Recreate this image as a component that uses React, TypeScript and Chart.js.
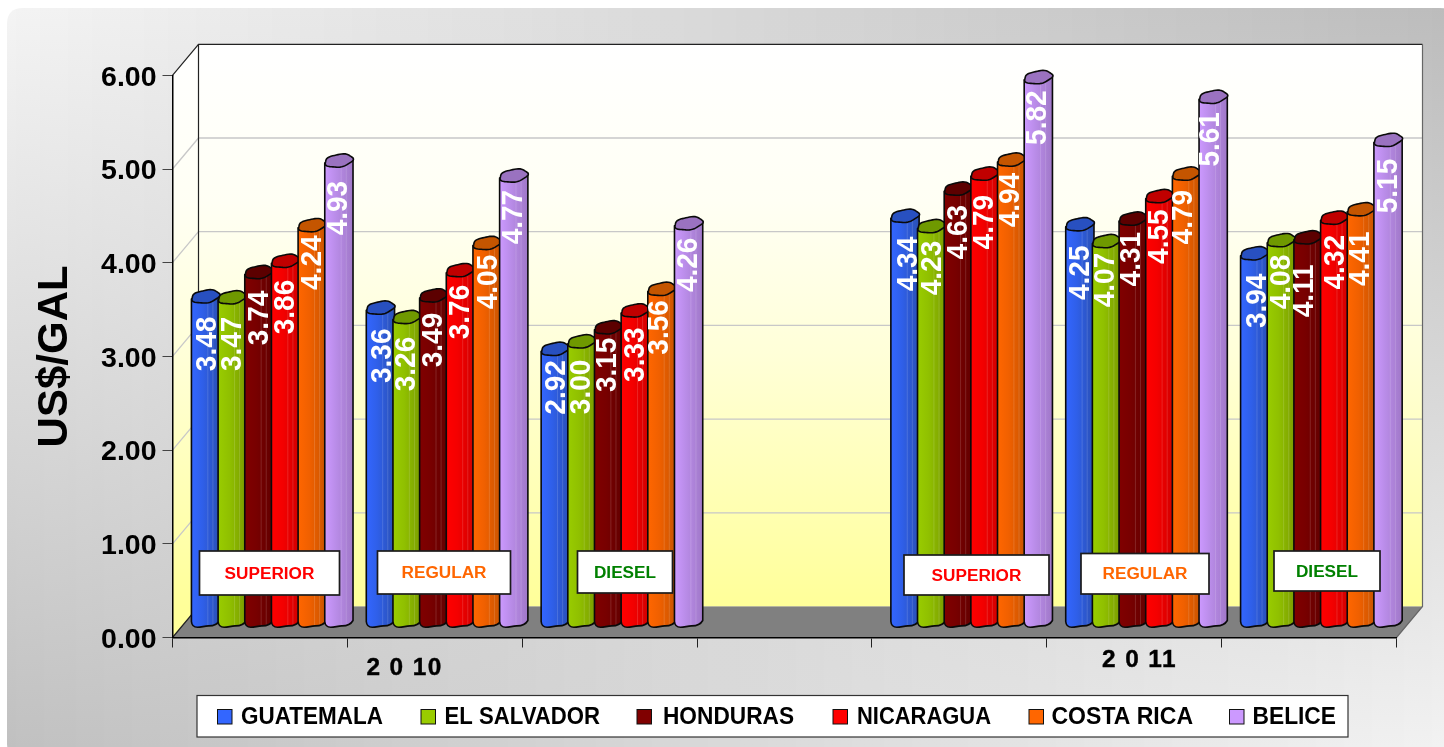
import React, { useEffect, useRef } from "react";
import { Chart, registerables } from "chart.js";

Chart.register(...registerables);

const categories = ["SUPERIOR", "REGULAR", "DIESEL", "", "SUPERIOR", "REGULAR", "DIESEL"];
const guatemala = [3.48, 3.36, 2.92, null, 4.34, 4.25, 3.94];
const elSalvador = [3.47, 3.26, 3.0, null, 4.23, 4.07, 4.08];
const honduras = [3.74, 3.49, 3.15, null, 4.63, 4.31, 4.11];
const nicaragua = [3.86, 3.76, 3.33, null, 4.79, 4.55, 4.32];
const costaRica = [4.24, 4.05, 3.56, null, 4.94, 4.79, 4.41];
const belice = [4.93, 4.77, 4.26, null, 5.82, 5.61, 5.15];
const countries = ["GUATEMALA", "EL SALVADOR", "HONDURAS", "NICARAGUA", "COSTA RICA", "BELICE"];
const yearLabels = ["2 0 10", "2 0 11"];

const FONT = '"Liberation Sans", Arial, sans-serif';
const W = 1444;
const H = 747;
const AREA = { left: 172.5, right: 1396.5, top: 75.3, bottom: 637.5 };
const DEPTH_X = 26;
const DEPTH_Y = 31;
const BAR_DX = 11.5;
const BAR_DY = -12.5;

const palette = [
  { light: "#3366ff", mid: "#2f5fe8", dark: "#2a50b4", top: "#2850c0" },
  { light: "#99cc00", mid: "#90c000", dark: "#7a9c00", top: "#6f9900" },
  { light: "#800000", mid: "#780000", dark: "#620000", top: "#5c0000" },
  { light: "#ff0000", mid: "#f40000", dark: "#d00000", top: "#c00000" },
  { light: "#ff6600", mid: "#f06000", dark: "#c85400", top: "#c45500" },
  { light: "#cc99ff", mid: "#b98ce8", dark: "#a078c8", top: "#9a72c0" },
];

// Hand placement of the value captions below each bar top, per country and category.
const captionDrop = [
  [45, 45.6, 36, 0, 45.7, 46, 45],
  [44, 44.5, 43, 0, 39.4, 36.4, 39.3],
  [43.4, 42, 35, 0, 41, 38, 51],
  [43.7, 39.3, 41.7, 0, 46, 38, 42],
  [35, 36.5, 36, 0, 38, 41, 47],
  [45, 39, 39, 0, 38, 40, 43.6],
];
const captionShift = [
  [1, 1.5, 0, 0, 2.7, 0, 2.3],
  [-0.6, -2, -1.3, 0, 0, -1.5, -1],
  [-0.2, -0.8, -2, 0, -1, -3, -4.7],
  [-0.6, -0.5, -0.3, 0, -1.7, -1, -0.4],
  [-0.6, 0, -3, 0, -1.7, -3.5, -2],
  [-0.9, -0.8, -0.6, 0, -1.7, -3.2, -0.7],
];

const legendSpots = [
  [217.5, 241, 383],
  [421, 444.5, 600],
  [637, 663, 794],
  [833, 857, 991],
  [1029, 1051.5, 1193],
  [1229.5, 1252.5, 1336],
];

const noteBoxes = [
  { cat: 0, x: 199.5, y: 551, w: 140, h: 44, color: "#ff0000" },
  { cat: 1, x: 377.5, y: 551, w: 133, h: 43, color: "#ff6600" },
  { cat: 2, x: 577.5, y: 551, w: 95, h: 42, color: "#008000" },
  { cat: 4, x: 904, y: 555, w: 145, h: 40, color: "#ff0000" },
  { cat: 5, x: 1081, y: 553.5, w: 128, h: 40.5, color: "#ff6600" },
  { cat: 6, x: 1274, y: 551, w: 106, h: 40, color: "#008000" },
];

function roundedRect(ctx: CanvasRenderingContext2D, x: number, y: number, w: number, h: number, r: number) {
  ctx.beginPath();
  ctx.moveTo(x + r, y);
  ctx.lineTo(x + w - r, y);
  ctx.quadraticCurveTo(x + w, y, x + w, y + r);
  ctx.lineTo(x + w, y + h - r);
  ctx.quadraticCurveTo(x + w, y + h, x + w - r, y + h);
  ctx.lineTo(x + r, y + h);
  ctx.quadraticCurveTo(x, y + h, x, y + h - r);
  ctx.lineTo(x, y + r);
  ctx.quadraticCurveTo(x, y, x + r, y);
  ctx.closePath();
}

function mix(a: number, b: number, t: number) {
  return Math.round(a + (b - a) * t);
}

function drawPanel(ctx: CanvasRenderingContext2D) {
  ctx.save();
  ctx.fillStyle = "#ffffff";
  ctx.fillRect(0, 0, W, H);
  roundedRect(ctx, 7, 8, W - 7 + 12, H - 8 + 12, 16);
  ctx.clip();
  const tl = 0xf4, tr = 0xbc, bl = 0xc0, br = 0xf2;
  for (let x = 0; x < W; x += 4) {
    const t = x / W;
    const g = ctx.createLinearGradient(0, 8, 0, H);
    const a = mix(tl, tr, t);
    const b = mix(bl, br, t);
    g.addColorStop(0, `rgb(${a},${a},${a})`);
    g.addColorStop(1, `rgb(${b},${b},${b})`);
    ctx.fillStyle = g;
    ctx.fillRect(x, 0, 4, H);
  }
  ctx.restore();
}

function drawRoom(chart: any) {
  const ctx: CanvasRenderingContext2D = chart.ctx;
  const y = chart.scales.y;
  const { left, right, top, bottom } = chart.chartArea;
  const wall = ctx.createLinearGradient(0, top - DEPTH_Y, 0, bottom - DEPTH_Y);
  wall.addColorStop(0, "#ffffff");
  wall.addColorStop(0.28, "#fffff4");
  wall.addColorStop(0.55, "#ffffd8");
  wall.addColorStop(1, "#ffff99");

  ctx.fillStyle = wall;
  ctx.fillRect(left + DEPTH_X, top - DEPTH_Y, right - left, bottom - top);

  ctx.beginPath();
  ctx.moveTo(left, top);
  ctx.lineTo(left + DEPTH_X, top - DEPTH_Y);
  ctx.lineTo(left + DEPTH_X, bottom - DEPTH_Y);
  ctx.lineTo(left, bottom);
  ctx.closePath();
  ctx.fill();

  ctx.strokeStyle = "#c8c8c8";
  ctx.lineWidth = 1.3;
  for (const v of [1, 2, 3, 4, 5]) {
    const py = y.getPixelForValue(v);
    ctx.beginPath();
    ctx.moveTo(left, py);
    ctx.lineTo(left + DEPTH_X, py - DEPTH_Y);
    ctx.lineTo(right + DEPTH_X, py - DEPTH_Y);
    ctx.stroke();
  }

  ctx.beginPath();
  ctx.moveTo(left + DEPTH_X, bottom - DEPTH_Y);
  ctx.lineTo(right + DEPTH_X, bottom - DEPTH_Y);
  ctx.lineTo(right, bottom);
  ctx.lineTo(left, bottom);
  ctx.closePath();
  ctx.fillStyle = "#808080";
  ctx.fill();

  ctx.strokeStyle = "#222222";
  ctx.lineWidth = 1.2;
  ctx.beginPath();
  ctx.moveTo(left, top);
  ctx.lineTo(left + DEPTH_X, top - DEPTH_Y);
  ctx.lineTo(right + DEPTH_X, top - DEPTH_Y);
  ctx.stroke();
  ctx.beginPath();
  ctx.moveTo(left + DEPTH_X, top - DEPTH_Y);
  ctx.lineTo(left + DEPTH_X, bottom - DEPTH_Y);
  ctx.lineTo(left, bottom);
  ctx.stroke();
  ctx.strokeStyle = "#666666";
  ctx.beginPath();
  ctx.moveTo(right + DEPTH_X, top - DEPTH_Y);
  ctx.lineTo(right + DEPTH_X, bottom - DEPTH_Y);
  ctx.lineTo(right, bottom);
  ctx.stroke();
}

function capPath(cx: number, cy: number, rx: number, ry: number, tilt: number) {
  const c = Math.cos(tilt);
  const s = Math.sin(tilt);
  const p = new Path2D();
  for (let k = 0; k <= 48; k++) {
    const a = (k / 48) * Math.PI * 2;
    const wob = 1 + 0.045 * Math.sin(5 * a + 0.7);
    const ex = rx * Math.cos(a) * wob;
    const ey = ry * Math.sin(a) * wob;
    const px = cx + ex * c - ey * s;
    const py = cy + ex * s + ey * c;
    if (k === 0) p.moveTo(px, py);
    else p.lineTo(px, py);
  }
  p.closePath();
  return p;
}

function drawCylinder(ctx: CanvasRenderingContext2D, bar: any, colors: (typeof palette)[number]) {
  const x0 = bar.x - bar.width / 2 + BAR_DX;
  const w = bar.width + 1.6;
  const x1 = x0 + w;
  const cx = (x0 + x1) / 2;
  const topY = bar.y + BAR_DY;
  const baseY = bar.base + BAR_DY;
  const tilt = (-9 * Math.PI) / 180;
  const capCy = topY - 2.4;
  const rightTop = topY - 4.8;

  ctx.save();
  ctx.lineJoin = "round";
  const body = new Path2D();
  body.moveTo(x0, topY);
  body.lineTo(x1, rightTop);
  body.lineTo(x1, baseY - 4);
  body.bezierCurveTo(x1 - 2, baseY - 0.5, x1 - 6, baseY + 1.5, x0 + w * 0.6, baseY + 1.4);
  body.bezierCurveTo(x0 + w * 0.45, baseY + 1.6, x0 + w * 0.35, baseY + 2.8, x0 + 6, baseY + 2.8);
  body.quadraticCurveTo(x0 + 0.5, baseY + 2.8, x0, baseY - 3);
  body.closePath();
  const g = ctx.createLinearGradient(x0, 0, x1, 0);
  g.addColorStop(0, colors.light);
  g.addColorStop(0.4, colors.mid);
  g.addColorStop(1, colors.dark);
  ctx.fillStyle = g;
  ctx.fill(body);
  ctx.save();
  ctx.clip(body);
  ctx.strokeStyle = "rgba(255,255,255,0.14)";
  ctx.lineWidth = 1;
  for (const f of [0.58, 0.76]) {
    ctx.beginPath();
    ctx.moveTo(x0 + w * f, topY - 6);
    ctx.lineTo(x0 + w * f, baseY + 6);
    ctx.stroke();
  }
  ctx.restore();
  ctx.strokeStyle = "#0a0a0a";
  ctx.lineWidth = 1.6;
  ctx.stroke(body);

  const cap = capPath(cx, capCy, w / 2, 6.3, tilt);
  ctx.fillStyle = colors.top;
  ctx.fill(cap);
  ctx.stroke(cap);
  ctx.restore();
}

const room3d = {
  id: "room3d",
  beforeDraw(chart: any) {
    const ctx = chart.ctx;
    drawPanel(ctx);
    drawRoom(chart);
  },
  beforeDatasetDraw() {
    return false;
  },
  afterDatasetsDraw(chart: any) {
    const ctx: CanvasRenderingContext2D = chart.ctx;
    chart.data.datasets.forEach((_: any, i: number) => {
      chart.getDatasetMeta(i).data.forEach((bar: any, j: number) => {
        if (chart.data.datasets[i].data[j] == null) return;
        drawCylinder(ctx, bar, palette[i]);
      });
    });

    ctx.save();
    ctx.fillStyle = "#ffffff";
    ctx.font = `bold 28px ${FONT}`;
    ctx.textAlign = "center";
    ctx.textBaseline = "middle";
    chart.data.datasets.forEach((ds: any, i: number) => {
      chart.getDatasetMeta(i).data.forEach((bar: any, j: number) => {
        const v = ds.data[j];
        if (v == null) return;
        ctx.save();
        ctx.translate(bar.x + BAR_DX + 0.8 + captionShift[i][j], bar.y + BAR_DY + captionDrop[i][j]);
        ctx.rotate(-Math.PI / 2);
        ctx.scale(1, 1.08);
        ctx.fillText(v.toFixed(2), 0, 1);
        ctx.restore();
      });
    });
    ctx.restore();

    ctx.save();
    for (const n of noteBoxes) {
      ctx.fillStyle = "#ffffff";
      ctx.fillRect(n.x, n.y, n.w, n.h);
      ctx.strokeStyle = "#1c1c1c";
      ctx.lineWidth = 1.7;
      ctx.strokeRect(n.x, n.y, n.w, n.h);
      ctx.fillStyle = n.color;
      ctx.font = `bold 17.2px ${FONT}`;
      ctx.textAlign = "center";
      ctx.textBaseline = "middle";
      ctx.fillText(categories[n.cat], n.x + n.w / 2, n.y + n.h / 2 + 1);
    }
    ctx.restore();

    ctx.save();
    ctx.fillStyle = "#000000";
    ctx.strokeStyle = "#000000";
    ctx.lineWidth = 0.4;
    ctx.font = `bold 24.4px ${FONT}`;
    (ctx as any).letterSpacing = "1.4px";
    ctx.textAlign = "center";
    ctx.textBaseline = "middle";
    ctx.fillText(yearLabels[0], 404.5, 668.5);
    ctx.strokeText(yearLabels[0], 404.5, 668.5);
    ctx.fillText(yearLabels[1], 1139.5, 660);
    ctx.strokeText(yearLabels[1], 1139.5, 660);
    (ctx as any).letterSpacing = "0px";
    ctx.restore();

    ctx.save();
    ctx.fillStyle = "#ffffff";
    ctx.fillRect(197, 695.5, 1151, 41.5);
    ctx.strokeStyle = "#333333";
    ctx.lineWidth = 1.2;
    ctx.strokeRect(197, 695.5, 1151, 41.5);
    ctx.font = `bold 23px ${FONT}`;
    ctx.textBaseline = "middle";
    ctx.textAlign = "left";
    countries.forEach((name, i) => {
      const [sx, tx, tEnd] = legendSpots[i];
      ctx.fillStyle = palette[i].light;
      ctx.fillRect(sx, 709.5, 14.5, 14.5);
      ctx.strokeStyle = "#111111";
      ctx.lineWidth = 1;
      ctx.strokeRect(sx, 709.5, 14.5, 14.5);
      ctx.fillStyle = "#000000";
      const natural = ctx.measureText(name).width;
      ctx.save();
      ctx.translate(tx, 717.5);
      ctx.scale((tEnd - tx) / natural, 1);
      ctx.fillText(name, 0, 0);
      ctx.restore();
    });
    ctx.restore();
  },
};

export default function App() {
  const ref = useRef<HTMLCanvasElement | null>(null);

  useEffect(() => {
    if (!ref.current) return;
    const series = [guatemala, elSalvador, honduras, nicaragua, costaRica, belice];
    const chart = new Chart(ref.current, {
      type: "bar",
      data: {
        labels: categories,
        datasets: countries.map((label, i) => ({
          label,
          data: series[i],
          backgroundColor: palette[i].light,
          borderColor: "#111111",
          borderWidth: 1,
          categoryPercentage: 0.915,
          barPercentage: 1,
        })),
      },
      options: {
        responsive: false,
        animation: false,
        devicePixelRatio: 1,
        layout: {
          padding: { left: 0, top: AREA.top, right: W - AREA.right, bottom: 0 },
        },
        plugins: { legend: { display: false }, tooltip: { enabled: false }, title: { display: false } },
        scales: {
          x: {
            grid: { drawOnChartArea: false, drawTicks: true, tickLength: 10, color: "#222222", offset: true },
            border: { color: "#000000", width: 1.5 },
            ticks: { callback: () => "", maxRotation: 0, autoSkip: false },
            afterFit: (s: any) => {
              s.height = H - AREA.bottom;
            },
          },
          y: {
            min: 0,
            max: 6,
            grid: { drawOnChartArea: false, drawTicks: true, tickLength: 10, color: "#444444" },
            border: { color: "#000000", width: 1.5 },
            ticks: {
              stepSize: 1,
              padding: 6,
              labelOffset: 2.5,
              color: "#000000",
              font: { family: FONT, size: 28.5, weight: "bold" },
              callback: (v: any) => Number(v).toFixed(2),
            },
            title: {
              display: true,
              text: "US$/GAL",
              color: "#000000",
              font: { family: FONT, size: 42, weight: "bold" },
              padding: { top: 30, bottom: 0 },
            },
            afterFit: (s: any) => {
              s.width = AREA.left;
            },
          },
        },
      },
      plugins: [room3d],
    } as any);
    return () => chart.destroy();
  }, []);

  return (
    <div style={{ position: "absolute", left: 0, top: 0, width: W, height: H, overflow: "hidden" }}>
      <canvas ref={ref} width={W} height={H} style={{ display: "block" }} />
    </div>
  );
}
